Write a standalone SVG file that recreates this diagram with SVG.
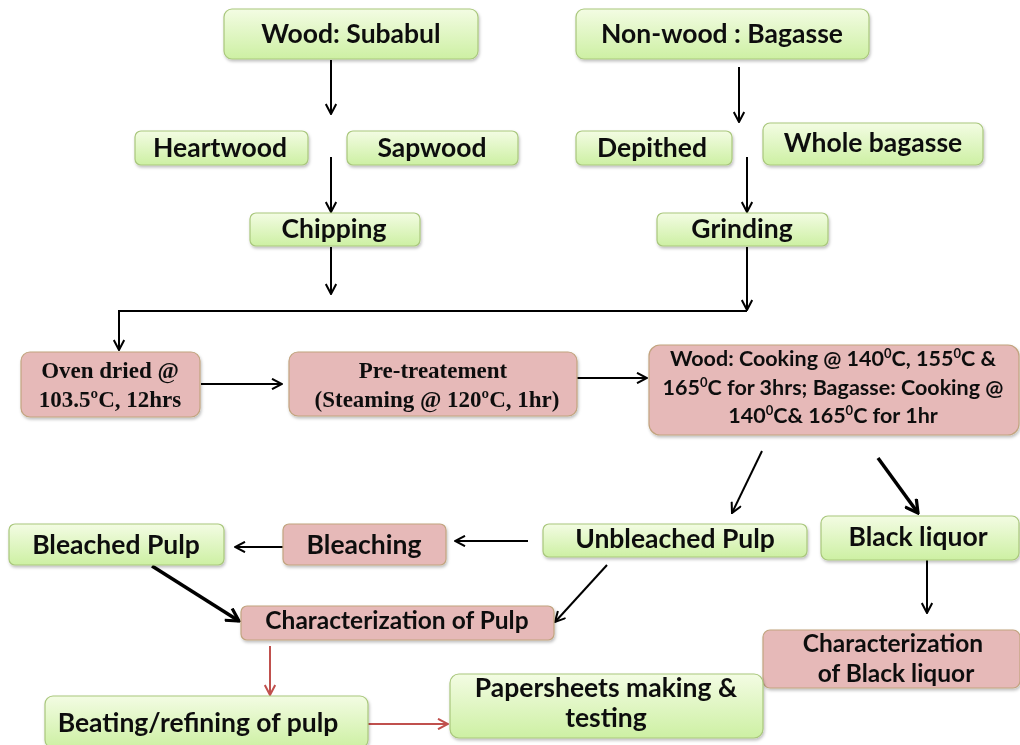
<svg xmlns="http://www.w3.org/2000/svg" width="1020" height="745" viewBox="0 0 1020 745">
<style>
.g{fill:url(#gg);stroke:#a9c77c;stroke-width:1.2}
.p{fill:#e6b9b8;stroke:#c2a47f;stroke-width:1.2}
.t{font-family:Lato,"Liberation Sans",sans-serif;font-weight:bold;font-size:26.5px;fill:#111;text-anchor:middle}
.s{font-family:"Liberation Serif","Times New Roman",serif;font-weight:bold;font-size:23px;fill:#111;text-anchor:middle}
.c{font-size:21.5px}
.m{font-size:24.5px}
.k{fill:none;stroke:#000;stroke-width:2}
.kt{fill:none;stroke:#000;stroke-width:3.5}
.r{fill:none;stroke:#c0504d;stroke-width:2}
</style>
<defs>
<linearGradient id="gg" x1="0" y1="0" x2="0" y2="1">
<stop offset="0" stop-color="#f3fce3"/>
<stop offset="1" stop-color="#cdf0a3"/>
</linearGradient>
<filter id="sh" x="-5%" y="-10%" width="110%" height="130%">
<feDropShadow dx="1" dy="2" stdDeviation="1.5" flood-color="#000" flood-opacity="0.25"/>
</filter>
<marker id="a" viewBox="0 0 12 12" refX="11" refY="6" markerWidth="12" markerHeight="12" markerUnits="userSpaceOnUse" orient="auto">
<path d="M1,0.8 L11,6 L1,11.2" fill="none" stroke="#000" stroke-width="2"/>
</marker>
<marker id="at" viewBox="0 0 16 16" refX="14" refY="8" markerWidth="16" markerHeight="16" markerUnits="userSpaceOnUse" orient="auto">
<path d="M1.5,1 L14,8 L1.5,15" fill="none" stroke="#000" stroke-width="3.2"/>
</marker>
<marker id="ar" viewBox="0 0 12 12" refX="11" refY="6" markerWidth="12" markerHeight="12" markerUnits="userSpaceOnUse" orient="auto">
<path d="M1,0.8 L11,6 L1,11.2" fill="none" stroke="#c0504d" stroke-width="2"/>
</marker>
</defs>
<rect width="1020" height="745" fill="#fff"/>

<g id="connectors">
<path class="k" d="M331,60 V114" marker-end="url(#a)"/>
<path class="k" d="M331,157 V212" marker-end="url(#a)"/>
<path class="k" d="M331,247 V294" marker-end="url(#a)"/>
<path class="k" d="M739,67 V122" marker-end="url(#a)"/>
<path class="k" d="M747,157 V212" marker-end="url(#a)"/>
<path class="k" d="M747,247 V310" marker-end="url(#a)"/>
<path class="k" d="M747,311 H119 V350" marker-end="url(#a)"/>
<path class="k" d="M201,384 H282" marker-end="url(#a)"/>
<path class="k" d="M569,378 H647" marker-end="url(#a)"/>
<path class="k" d="M762,451 L732,513" marker-end="url(#a)"/>
<path class="kt" d="M878,458 L918,513" marker-end="url(#at)"/>
<path class="k" d="M528,541 H455" marker-end="url(#a)"/>
<path class="k" d="M283,547 H235" marker-end="url(#a)"/>
<path class="kt" d="M152,566 L239,621" marker-end="url(#at)"/>
<path class="k" d="M607,565 L555,622" marker-end="url(#a)"/>
<path class="k" d="M927,558 V613" marker-end="url(#a)"/>
<path class="r" d="M270,646 V695" marker-end="url(#ar)"/>
<path class="r" d="M368,724 H448" marker-end="url(#ar)"/>
</g>

<g id="wood" filter="url(#sh)"><rect class="g" x="224" y="9" width="254" height="50" rx="8"/><text class="t" x="351" y="43">Wood: Subabul</text></g>
<g id="nonwood" filter="url(#sh)"><rect class="g" x="576" y="9" width="293" height="50" rx="8"/><text class="t" x="722" y="43">Non-wood : Bagasse</text></g>
<g id="heartwood" filter="url(#sh)"><rect class="g" x="135" y="131" width="173" height="34" rx="6"/><text class="t" x="220" y="157">Heartwood</text></g>
<g id="sapwood" filter="url(#sh)"><rect class="g" x="347" y="131" width="171" height="34" rx="6"/><text class="t" x="432" y="157">Sapwood</text></g>
<g id="depithed" filter="url(#sh)"><rect class="g" x="576" y="131" width="156" height="34" rx="6"/><text class="t" x="652" y="157">Depithed</text></g>
<g id="whole" filter="url(#sh)"><rect class="g" x="763" y="123" width="220" height="42" rx="7"/><text class="t" x="873" y="152">Whole bagasse</text></g>
<g id="chipping" filter="url(#sh)"><rect class="g" x="250" y="213" width="170" height="33" rx="6"/><text class="t" x="334" y="238">Chipping</text></g>
<g id="grinding" filter="url(#sh)"><rect class="g" x="657" y="213" width="171" height="33" rx="6"/><text class="t" x="742" y="238">Grinding</text></g>

<g id="oven" filter="url(#sh)"><rect class="p" x="21" y="352" width="179" height="65" rx="9"/>
<text class="s" x="110" y="378">Oven dried @</text><text class="s" x="110" y="407">103.5ºC, 12hrs</text></g>
<g id="pretreat" filter="url(#sh)"><rect class="p" x="289" y="352" width="288" height="64" rx="9"/>
<text class="s" x="433" y="378">Pre-treatement</text><text class="s" x="437" y="407">(Steaming @ 120ºC, 1hr)</text></g>
<g id="cooking" filter="url(#sh)"><rect class="p" x="649" y="345" width="370" height="90" rx="11"/>
<text class="t c" x="833" y="366">Wood: Cooking @ 140<tspan font-size="13" baseline-shift="super">0</tspan>C, 155<tspan font-size="13" baseline-shift="super">0</tspan>C &amp;</text>
<text class="t c" x="833" y="395">165<tspan font-size="13" baseline-shift="super">0</tspan>C for 3hrs; Bagasse: Cooking @</text>
<text class="t c" x="833" y="423">140<tspan font-size="13" baseline-shift="super">0</tspan>C&amp; 165<tspan font-size="13" baseline-shift="super">0</tspan>C for 1hr</text></g>

<g id="unbleached" filter="url(#sh)"><rect class="g" x="543" y="524" width="264" height="33" rx="6"/><text class="t" x="675" y="548">Unbleached Pulp</text></g>
<g id="blackliquor" filter="url(#sh)"><rect class="g" x="821" y="516" width="198" height="44" rx="7"/><text class="t" x="918" y="546">Black liquor</text></g>
<g id="bleaching" filter="url(#sh)"><rect class="p" x="283" y="524" width="163" height="41" rx="6"/><text class="t" x="364" y="554">Bleaching</text></g>
<g id="bleached" filter="url(#sh)"><rect class="g" x="9" y="524" width="215" height="41" rx="6"/><text class="t" x="116" y="554">Bleached Pulp</text></g>
<g id="charpulp" filter="url(#sh)"><rect class="p" x="241" y="606" width="313" height="34" rx="6"/><text class="t m" x="397" y="629">Characterization of Pulp</text></g>
<g id="charbl" filter="url(#sh)"><rect class="p" x="763" y="630" width="257" height="58" rx="7"/><text class="t m" x="893" y="652">Characterization</text><text class="t m" x="896" y="682">of Black liquor</text></g>
<g id="beating" filter="url(#sh)"><rect class="g" x="45" y="696" width="323" height="52" rx="8"/><text class="t" x="198" y="732">Beating/refining of pulp</text></g>
<g id="papersheets" filter="url(#sh)"><rect class="g" x="450" y="674" width="313" height="64" rx="9"/><text class="t" x="606" y="697">Papersheets making &amp;</text><text class="t" x="606" y="727">testing</text></g>
</svg>
